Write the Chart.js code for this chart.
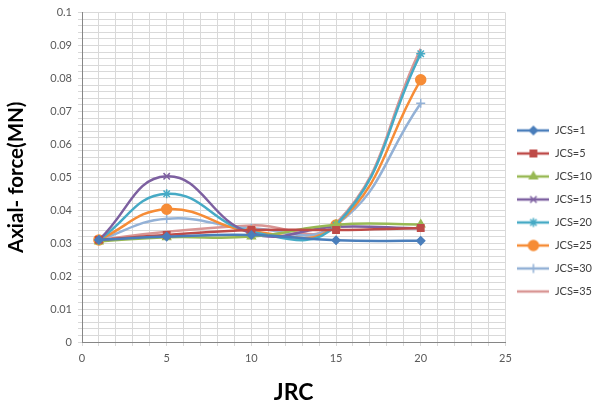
<!DOCTYPE html>
<html>
<head>
<meta charset="utf-8">
<script src="https://cdn.jsdelivr.net/npm/chart.js"></script>
<style>
  html, body { margin: 0; padding: 0; background: #ffffff; }
  #wrap { width: 602px; height: 410px; }
</style>
</head>
<body>
<div id="wrap"><canvas id="axialChart" width="602" height="410"></canvas></div>
<script>
// JRC values on the x axis
const jrc = [1, 5, 10, 15, 20];

// Axial force (MN) for each JCS
const jcs1  = [0.0310, 0.0320, 0.0325, 0.0309, 0.0307];
const jcs5  = [0.0310, 0.0325, 0.0340, 0.0340, 0.0346];
const jcs10 = [0.0305, 0.0318, 0.0320, 0.0356, 0.0357];
const jcs15 = [0.0310, 0.0503, 0.0330, 0.0350, 0.0345];
const jcs20 = [0.0310, 0.0450, 0.0335, 0.0355, 0.0875];
const jcs25 = [0.0310, 0.0403, 0.0336, 0.0355, 0.0796];
const jcs30 = [0.0310, 0.0374, 0.0345, 0.0355, 0.0725];
const jcs35 = [0.0310, 0.0335, 0.0354, 0.0360, 0.0890];

const seriesNames = ['JCS=1', 'JCS=5', 'JCS=10', 'JCS=15', 'JCS=20', 'JCS=25', 'JCS=30', 'JCS=35'];
const seriesValues = [jcs1, jcs5, jcs10, jcs15, jcs20, jcs25, jcs30, jcs35];
const seriesColors = ['#4A7EBB', '#BE4B48', '#98B954', '#7D60A0', '#46AAC5', '#F68C36', '#93B1D6', '#D99694'];
const markerStyles = ['rectRot', 'rect', 'triangle', 'crossRot', 'star', 'circle', 'cross', false];
const markerSizes = [4, 4.5, 4.5, 4.5, 4.5, 5, 4.5, 0];

const FONT = "Lato, 'Open Sans', 'Liberation Sans', sans-serif";

// small canvas images for the legend: line with marker in the middle
function legendImage(color, style, size) {
    const c = document.createElement('canvas');
    c.width = 32;
    c.height = 14;
    const g = c.getContext('2d');
    g.strokeStyle = color;
    g.lineWidth = 2.5;
    g.beginPath();
    g.moveTo(0, 7);
    g.lineTo(32, 7);
    g.stroke();
    if (style) {
        g.fillStyle = color;
        g.strokeStyle = color;
        g.lineWidth = 1.5;
        Chart.helpers.drawPoint(g, { pointStyle: style, radius: size, rotation: 0, borderWidth: 1.5 }, 16, 7);
    }
    return c;
}

const legendImages = seriesNames.map((n, i) => legendImage(seriesColors[i], markerStyles[i], markerSizes[i]));

const datasets = seriesNames.map((name, i) => ({
    label: name,
    data: jrc.map((x, k) => ({ x: x, y: seriesValues[i][k] })),
    showLine: true,
    borderColor: seriesColors[i],
    backgroundColor: seriesColors[i],
    borderWidth: 2.5,
    tension: 0.45,
    pointStyle: markerStyles[i] || 'circle',
    pointRadius: markerSizes[i],
    pointHoverRadius: markerSizes[i],
    pointBorderWidth: 1.5
}));

new Chart(document.getElementById('axialChart').getContext('2d'), {
    type: 'scatter',
    data: { datasets: datasets },
    options: {
        responsive: false,
        animation: false,
        layout: { padding: { top: 12, left: 0, right: 0, bottom: 0 } },
        plugins: {
            tooltip: { enabled: false },
            legend: {
                position: 'right',
                labels: {
                    usePointStyle: true,
                    pointStyleWidth: 32,
                    padding: 12,
                    color: '#404040',
                    font: { family: FONT, size: 11 },
                    generateLabels: function (chart) {
                        const items = Chart.defaults.plugins.legend.labels.generateLabels(chart);
                        items.forEach((it, i) => { it.pointStyle = legendImages[i]; });
                        return items;
                    }
                }
            }
        },
        scales: {
            x: {
                type: 'linear',
                min: 0,
                max: 25,
                afterFit: s => { s.height = 68; },
                ticks: {
                    stepSize: 1,
                    autoSkip: false,
                    maxRotation: 0,
                    color: '#595959',
                    font: { family: FONT, size: 11 },
                    padding: 6,
                    callback: v => (v % 5 === 0 ? String(v) : '')
                },
                grid: { color: '#D9D9D9', tickLength: 4 },
                border: { color: '#868686' },
                title: {
                    display: true,
                    text: 'JRC',
                    color: '#000000',
                    font: { family: FONT, size: 23, weight: 'bold' },
                    padding: { top: 8 }
                }
            },
            y: {
                min: 0,
                max: 0.1,
                afterFit: s => { s.width = 82; },
                ticks: {
                    stepSize: 0.002,
                    autoSkip: false,
                    maxTicksLimit: 100,
                    color: '#595959',
                    font: { family: FONT, size: 11 },
                    padding: 6,
                    callback: v => (Math.round(v * 1000) % 10 === 0 ? String(+v.toFixed(2)) : '')
                },
                grid: { color: '#D9D9D9', tickLength: 4 },
                border: { color: '#868686' },
                title: {
                    display: true,
                    text: 'Axial- force(MN)',
                    color: '#000000',
                    font: { family: FONT, size: 20.5, weight: 'bold' },
                    padding: { bottom: 4 }
                }
            }
        }
    }
});
</script>
</body>
</html>
